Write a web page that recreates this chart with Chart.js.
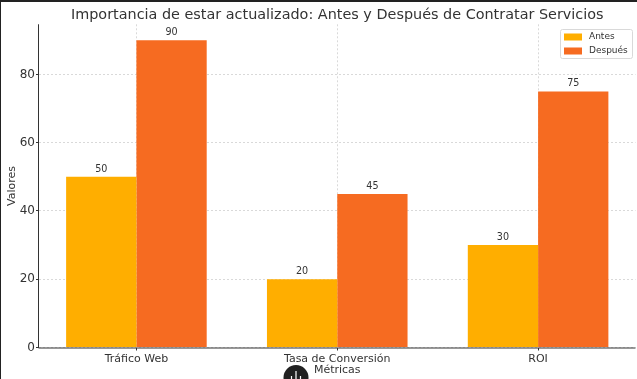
<!DOCTYPE html>
<html><head><meta charset="utf-8">
<style>html,body{margin:0;padding:0;background:#fff;overflow:hidden}#w{position:absolute;left:0;top:0;width:637px;height:379px}
canvas{display:block}
#f{position:absolute;left:0;top:0;width:637px;height:379px;box-sizing:border-box;border-top:2px solid #222;border-left:1px solid #222;pointer-events:none}</style>
<script src="https://cdn.jsdelivr.net/npm/chart.js@4"></script></head>
<body><div id="w"><canvas id="c" width="637" height="379"></canvas></div><div id="f"></div>
<script>
const categories=['Tráfico Web','Tasa de Conversión','ROI'];
const antes=[50,20,30];
const despues=[90,45,75];
const seriesNames=['Antes','Después'];
const seriesColors=['#FFAE00','#F66B21'];
const positions=[0,1,2];
const yTicks=[0,20,40,60,80];
const F='"DejaVu Sans"';
const ink='#333333';
const overlay={id:'overlay',
 afterDatasetsDraw(ch){const c=ch.ctx;c.save();
  c.font='9.6px '+F;c.fillStyle=ink;c.textAlign='center';c.textBaseline='bottom';
  ch.data.datasets.forEach((d,i)=>ch.getDatasetMeta(i).data.forEach((b,j)=>c.fillText(String(d.data[j].y),b.x,b.y-3)));
  const s=ch.scales;
  c.strokeStyle=ink;c.lineWidth=1;c.beginPath();
  c.moveTo(s.x.left-.5,s.y.top);c.lineTo(s.x.left-.5,s.y.bottom+.5);c.lineTo(s.x.right,s.y.bottom+.5);c.stroke();
  // legend
  const lx=560,ly=29,lw=72,lh=29;
  c.fillStyle='rgba(255,255,255,.8)';c.strokeStyle='#d9d9d9';c.beginPath();c.roundRect(lx+.5,ly+.5,lw,lh,2);c.fill();c.stroke();
  c.font='9px '+F;c.textAlign='left';c.textBaseline='middle';
  ch.data.datasets.forEach((d,i)=>{const y=ly+7.5+i*14;c.fillStyle=d.backgroundColor;c.fillRect(lx+4,y-3,18,7);c.fillStyle=ink;c.fillText(d.label,lx+29,y);});
  // floating round button cut by the bottom edge
  c.fillStyle='#212121';c.beginPath();c.arc(296,377.5,12.5,0,Math.PI*2);c.fill();
  c.strokeStyle='#fff';c.lineWidth=1.2;c.beginPath();c.moveTo(296,371);c.lineTo(296,379);c.moveTo(291.5,376);c.lineTo(291.5,379);c.moveTo(300.5,376);c.lineTo(300.5,379);c.stroke();
  c.restore();}};
new Chart(document.getElementById('c'),{type:'bar',
 data:{datasets:[
  {label:seriesNames[0],backgroundColor:seriesColors[0],data:positions.map((x,i)=>({x,y:antes[i]}))},
  {label:seriesNames[1],backgroundColor:seriesColors[1],data:positions.map((x,i)=>({x,y:despues[i]}))}]},
 plugins:[overlay],
 options:{responsive:false,animation:false,devicePixelRatio:1,
  layout:{padding:{left:0,right:1.5,top:0,bottom:0}},
  datasets:{bar:{categoryPercentage:.7,barPercentage:1,borderWidth:0}},
  plugins:{legend:{display:false},tooltip:{enabled:false},
   title:{display:true,fullSize:false,text:'Importancia de estar actualizado: Antes y Después de Contratar Servicios',color:ink,font:{family:F,size:14.4,weight:'normal'},padding:{top:7,bottom:0}}},
  scales:{
   x:{type:'linear',min:-.485,max:2.485,offset:false,
    afterBuildTicks(s){s.ticks=positions.map(v=>({value:v}));},
    afterFit(s){s.height=31.5;},
    ticks:{callback:v=>categories[v],color:ink,font:{family:F,size:11},maxRotation:0,autoSkip:false,padding:2},
    grid:{offset:false,color:'rgba(0,0,0,.15)',tickLength:3,drawTicks:true,tickColor:ink},
    border:{display:false,dash:[2,2]},
    title:{display:true,text:'Métricas',color:ink,font:{family:F,size:11},padding:{top:0,bottom:2}}},
   y:{type:'linear',min:0,max:94.7,
    afterBuildTicks(s){s.ticks=yTicks.map(v=>({value:v}));},
    afterFit(s){s.width=39;},
    ticks:{color:ink,font:{family:F,size:12},padding:1},
    grid:{color:'rgba(0,0,0,.15)',tickLength:3,tickColor:ink},
    border:{display:false,dash:[2,2]},
    title:{display:true,text:'Valores',color:ink,font:{family:F,size:11},padding:{top:6,bottom:0}}}}}});
</script></body></html>
